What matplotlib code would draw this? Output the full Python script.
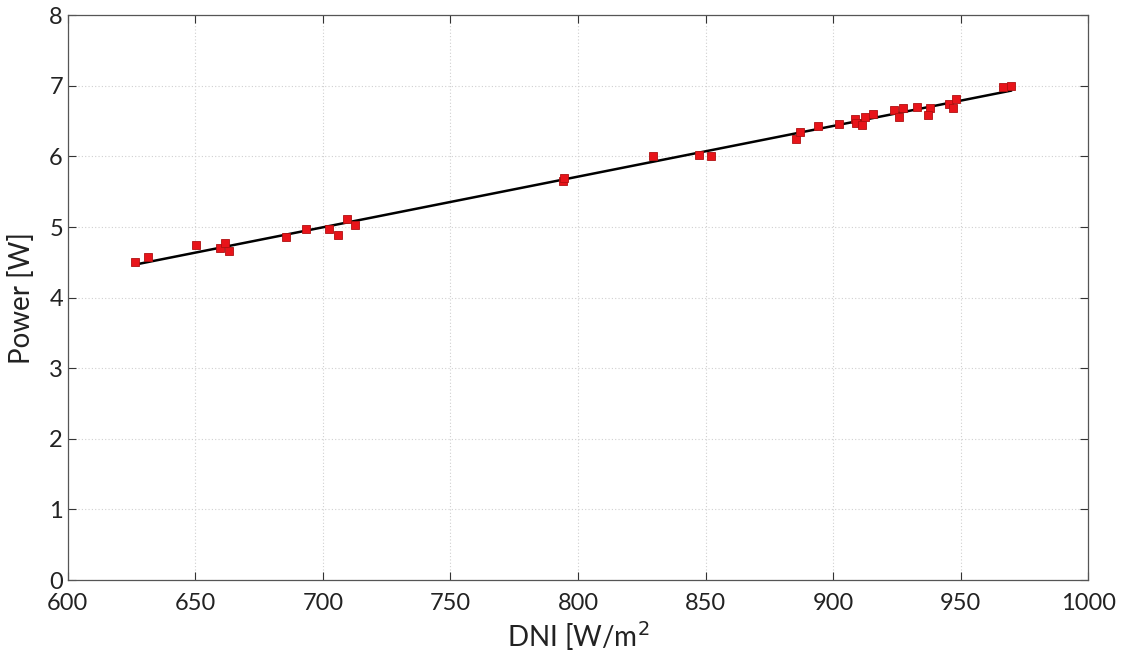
import matplotlib.pyplot as plt
import numpy as np

# measured DNI [W/m2] and module power [W]
dni = [626.5, 631.3, 650.2, 659.6, 661.5, 663.3, 685.5, 693.3, 702.4, 706.0,
       709.3, 712.5, 794.1, 794.4, 829.5, 847.6, 852.0, 885.5, 887.1, 894.0,
       902.5, 908.6, 909.0, 911.5, 912.5, 915.6, 923.9, 925.9, 927.6, 932.8,
       937.8, 937.4, 945.6, 946.9, 948.2, 966.8, 969.7]
power = [4.50, 4.58, 4.74, 4.70, 4.78, 4.66, 4.86, 4.97, 4.97, 4.89,
         5.11, 5.03, 5.65, 5.69, 6.01, 6.015, 6.00, 6.25, 6.35, 6.43,
         6.46, 6.525, 6.47, 6.445, 6.56, 6.60, 6.66, 6.56, 6.69, 6.70,
         6.69, 6.59, 6.75, 6.68, 6.82, 6.99, 7.00]

x_ticks = [600, 650, 700, 750, 800, 850, 900, 950, 1000]
y_ticks = [0, 1, 2, 3, 4, 5, 6, 7, 8]

plt.rcParams["font.family"] = ["Lato", "DejaVu Sans"]

fig = plt.figure(figsize=(11.3, 6.64), dpi=100)
ax = fig.add_axes([0.060, 0.1265, 0.903, 0.8505])

coef = np.polyfit(dni, power, 1)
xf = np.array([min(dni), max(dni)])
ax.plot(xf, np.polyval(coef, xf), color="black", linewidth=1.8, zorder=2)

ax.plot(dni, power, linestyle="none", marker="s", markersize=5.5,
        markerfacecolor="#e8141a", markeredgecolor="#b01010",
        markeredgewidth=0.6, zorder=3)

ax.set_xlim(600, 1000)
ax.set_ylim(0, 8)
ax.set_xticks(x_ticks)
ax.set_yticks(y_ticks)
ax.tick_params(direction="in", length=6, width=0.8, labelsize=17,
               top=True, right=True, colors="#333333", labelcolor="#222222")
ax.tick_params(axis="x", pad=9)
ax.grid(True, linestyle=(0, (1, 2)), color="#d0d0d0", linewidth=0.8)
ax.set_axisbelow(True)
for s in ax.spines.values():
    s.set_color("#555555")
    s.set_linewidth(0.9)

ax.set_xlabel("DNI [W/m$^2$", fontsize=20, color="#222222", labelpad=4)
ax.set_ylabel("Power [W]", fontsize=20, color="#222222", labelpad=10)

fig.savefig("out.png", dpi=100)
